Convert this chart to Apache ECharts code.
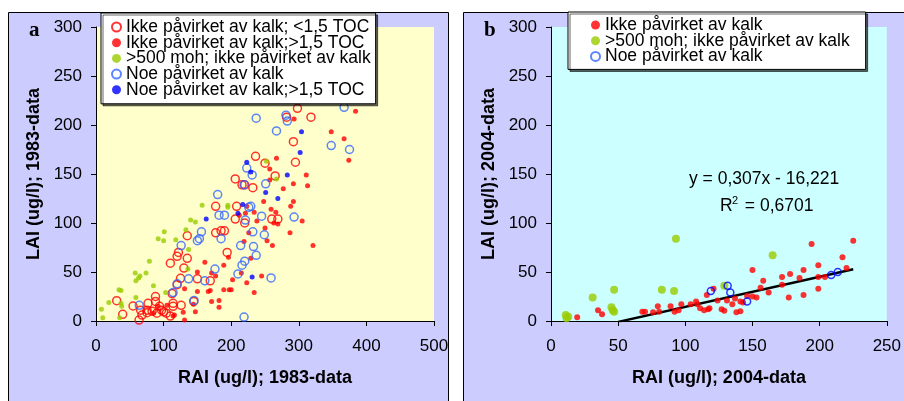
<!DOCTYPE html>
<html><head><meta charset="utf-8">
<script src="https://cdn.jsdelivr.net/npm/echarts@6/dist/echarts.min.js"></script>
<style>html,body{margin:0;padding:0;background:#fff}#c{width:904px;height:401px}</style>
</head><body><div id="c"></div>
<script>
// ---------- Panel a (1983) ----------
const aRedOpen = [[30.6,20.7],[39.5,6.8],[54.8,15.3],[63.7,1],[66,11],[68,6],[75.5,11],[77,18],[75.5,8.5],[83,10],[88,25],[88,20],[90,8],[94,15],[97,11],[100,9.5],[104,8],[110,5],[114,18],[114,15],[112.5,28],[120,37],[126,16],[110,59],[120,66],[122,70],[125,43.5],[130,54],[135,64],[135,87],[144.6,20],[150,43],[169,41],[177,117],[177,90],[185,92],[190,92],[194,70],[206,145],[206,104],[208,117],[216,139],[220,139],[220,100],[232,136],[236,168],[250,161],[265,148],[260,104],[269,104],[282,208],[292,183],[295,162],[298,217],[318,208]];
const aRedDot = [[85,8],[92,15],[105,16],[114,5],[116,6],[129,9],[131,1],[131,33],[144,17],[147,9.5],[150,30],[150,50],[161,60],[166,30],[169,31],[171,20],[171,49],[177,46],[182,21],[182,14],[189,57],[196,65],[189,32],[197,32],[200,32],[202,42],[215,49],[219,81],[223,39],[226,90],[229,64],[234,29],[245,46],[234,111],[238,102],[248,122],[250,95],[253,82],[259,114],[261,77],[263,100],[266,111],[269,99],[267,166],[257,155],[257,144],[277,135],[287,90],[288,117],[292,122],[292,140],[293,206],[305,102],[311,149],[313,138],[321,77],[348,193],[367,186],[374,164],[384,214],[212,108],[221,110],[223,117]];
const aGreen = [[8,12],[10,3.4],[19,19],[34,32],[37,31],[37,18],[35,3.4],[38,15],[58,49],[59,41],[63,44],[65,46],[59,24],[74,49],[79,61],[85,36],[92,84],[101,91],[100,82],[103,29],[118,83],[133,93],[137,73],[140,103],[147,101],[136,53],[157,118],[195,118],[195,116],[252,163],[267,145]];
const aBlueOpen = [[64,16],[114,29],[120,38],[126,77],[137,43],[145,21],[150,82],[153,84],[156,91],[161,41],[176,53],[180,129],[182,108],[185,84],[190,108],[210,48],[214,77],[216,57],[219,4],[220,61],[221,103],[223,156],[219,139],[226,116],[229,117],[231,149],[232,91],[233,76],[237,67],[237,207],[245,107],[249,88],[251,140],[259,44],[267,194],[281,210],[283,204],[293,106],[348,179],[367,218],[375,175]];
const aBlueDot = [[163,104],[210,110],[217,119],[223,162],[229,152],[231,45],[251,131],[269,125],[283,149],[302,172],[304,193]];

// ---------- Panel b (2004) ----------
const bRed = [[19.5,3.7],[35,11],[38,7],[68,9.5],[70,9.5],[76,9],[79.5,15],[80.5,9.5],[89,15],[92,9.5],[95,11],[97,17],[104,17],[108,20],[109,17],[111,13],[114,11],[116,26.5],[117,12],[118,13],[121,33],[124,21],[127,12],[129,10.5],[131,21],[135,17],[137,23],[138,9],[141,10],[141,20],[143,19],[146,25.5],[150,52],[150,25],[153,24],[156,34],[158,41],[162,29],[172,37],[172,45],[177,24],[178,48],[185,44],[188,26.5],[188,52],[194,78.6],[199,33],[199,57],[199,45],[204,45],[217,65],[220,54],[225,82]];
const bGreen = [[11,6],[11.6,2.7],[12.8,4.4],[31,24],[45,14],[46,11],[47,32],[47,9.5],[82.5,32],[91.6,30.6],[93,84],[129,36],[165,67]];
const bBlueOpen = [[119,30.6],[131.5,36],[133.5,29],[146,20],[208.6,47],[213.5,50]];
const trendSlope = 0.307, trendIntercept = -16.221;
const trendXRange = [50, 225];

const legendA = ['Ikke påvirket av kalk; <1,5 TOC','Ikke påvirket av kalk;>1,5 TOC','>500 moh; ikke påvirket av kalk','Noe påvirket av kalk','Noe påvirket av kalk;>1,5 TOC'];
const legendB = ['Ikke påvirket av kalk','>500 moh; ikke påvirket av kalk','Noe påvirket av kalk'];
const xTicksA = [0,500,100], xTicksB = [0,250,50], yTicks = [0,300,50];

const FONT = 'Liberation Sans, Arial, sans-serif';
const trendData = trendXRange.map(x => [x, trendSlope * x + trendIntercept]);

function xAxis(grid, t, name) {
  return {type:'value', gridIndex:grid, min:t[0], max:t[1], interval:t[2],
    name:name, nameLocation:'middle', nameGap:48,
    nameTextStyle:{fontFamily:FONT, fontWeight:'bold', fontSize:18, color:'#000'},
    axisLine:{lineStyle:{color:'#000', width:1}}, axisTick:{length:5, lineStyle:{color:'#000'}},
    axisLabel:{fontFamily:FONT, fontSize:17, color:'#000', margin:17}, splitLine:{show:false}};
}
function yAxis(grid, name) {
  return {type:'value', gridIndex:grid, min:yTicks[0], max:yTicks[1], interval:yTicks[2],
    name:name, nameLocation:'middle', nameGap:53, nameRotate:90,
    nameTextStyle:{fontFamily:FONT, fontWeight:'bold', fontSize:18, color:'#000'},
    axisLine:{show:true, lineStyle:{color:'#000', width:1}}, axisTick:{show:true, length:5, lineStyle:{color:'#000'}},
    axisLabel:{fontFamily:FONT, fontSize:17, color:'#000', margin:14}, splitLine:{show:false}};
}
function openSeries(name, data, grid, color, size) {
  return {type:'scatter', name:name, data:data, xAxisIndex:grid, yAxisIndex:grid, symbol:'circle', symbolSize:size,
    itemStyle:{color:'rgba(0,0,0,0)', borderColor:color, borderWidth:1.5}};
}
function dotSeries(name, data, grid, color, size) {
  return {type:'scatter', name:name, data:data, xAxisIndex:grid, yAxisIndex:grid, symbol:'circle', symbolSize:size,
    itemStyle:{color:color}};
}
const legendCommon = {orient:'vertical', itemGap:-2.3, itemWidth:9, itemHeight:9,
  backgroundColor:'#fff', borderColor:'#000', borderWidth:1, borderRadius:0,
  shadowColor:'rgba(0,0,0,0.6)', shadowOffsetX:2, shadowOffsetY:2, shadowBlur:0,
  textStyle:{fontFamily:FONT, fontSize:17.5, color:'#000', lineHeight:16.3}};

const chart = echarts.init(document.getElementById('c'), null, {renderer:'canvas'});
chart.setOption({
  animation:false,
  backgroundColor:'#fff',
  graphic:[
    {type:'rect', shape:{x:8.5, y:12.5, width:440, height:400}, style:{fill:'#ccccff', stroke:'#000', lineWidth:1}, z:-10},
    {type:'rect', shape:{x:463.5, y:12.5, width:445, height:400}, style:{fill:'#ccccff', stroke:'#000', lineWidth:1}, z:-10},
    {type:'text', left:29, top:20, style:{text:'a', font:'bold 21px "Liberation Serif", "Times New Roman", serif', fill:'#000'}},
    {type:'text', left:484, top:20, style:{text:'b', font:'bold 21px "Liberation Serif", "Times New Roman", serif', fill:'#000'}},
    {type:'text', left:689, top:170, style:{text:'y = 0,307x - 16,221', font:'17.5px ' + FONT, fill:'#000'}},
    {type:'text', left:720, top:197, style:{text:'R', font:'17.5px ' + FONT, fill:'#000'}},
    {type:'text', left:732, top:195, style:{text:'2', font:'11px ' + FONT, fill:'#000'}},
    {type:'text', left:740, top:197, style:{text:' = 0,6701', font:'17.5px ' + FONT, fill:'#000'}}
  ],
  grid:[
    {left:96, top:27, width:338, height:294, show:true, backgroundColor:'#ffffcc', borderWidth:0},
    {left:551, top:27, width:338, height:294, show:true, backgroundColor:'#ccffff', borderWidth:0}
  ],
  xAxis:[xAxis(0, xTicksA, 'RAI (ug/l); 1983-data'), xAxis(1, xTicksB, 'RAI (ug/l); 2004-data')],
  yAxis:[yAxis(0, 'LAI (ug/l); 1983-data'), yAxis(1, 'LAI (ug/l); 2004-data')],
  legend:[
    Object.assign({}, legendCommon, {left:101, top:13, padding:[5,5,5,10], data:legendA}),
    Object.assign({}, legendCommon, {left:568, top:12, padding:[4,16,4,22], data:legendB})
  ],
  series:[
    openSeries(legendA[0], aRedOpen, 0, '#ff0000', 8),
    dotSeries(legendA[1], aRedDot, 0, '#ff0000', 5),
    dotSeries(legendA[2], aGreen, 0, '#99cc00', 5),
    openSeries(legendA[3], aBlueOpen, 0, '#3366ff', 8),
    dotSeries(legendA[4], aBlueDot, 0, '#0000ff', 5),
    dotSeries(legendB[0], bRed, 1, '#ff0000', 6),
    dotSeries(legendB[1], bGreen, 1, '#99cc00', 8),
    openSeries(legendB[2], bBlueOpen, 1, '#0000ff', 7),
    {type:'line', data:trendData, xAxisIndex:1, yAxisIndex:1, symbol:'none', lineStyle:{color:'#000', width:2.5}, silent:true, z:1}
  ]
});
</script></body></html>
